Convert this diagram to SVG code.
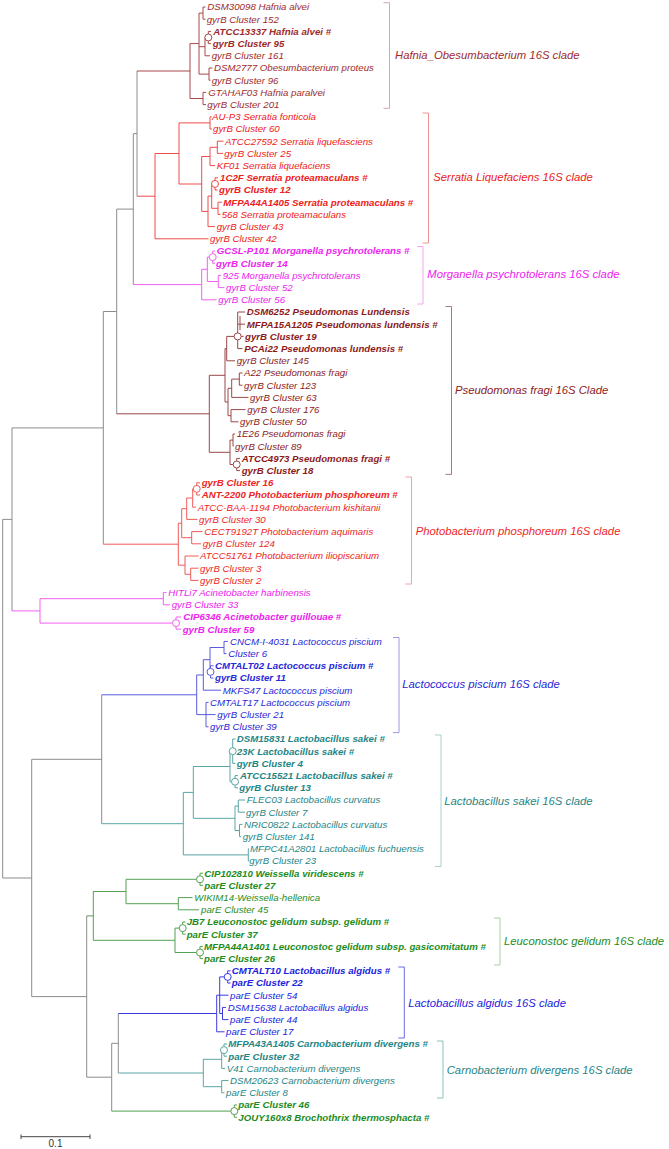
<svg xmlns="http://www.w3.org/2000/svg" width="669" height="1149" viewBox="0 0 669 1149">
<style>
text{font-family:"Liberation Sans",Arial,sans-serif;}
.lf{font-size:9.7px;font-style:italic;}
.b{font-weight:bold;}
.cl{font-size:11.3px;font-style:italic;}
.sc{font-size:10px;fill:#333;}
path{fill:none;stroke-width:1;}
circle{fill:#fff;stroke-width:1;}
.g{stroke:#8c8c8c;}
.haf{fill:#9e2b2b;} .hafL{stroke:#a84848;} .hafB{stroke:#cfaaaa;}
.ser{fill:#ee2020;} .serL{stroke:#f04a4a;} .serB{stroke:#f39090;}
.mor{fill:#ee22ee;} .morL{stroke:#f060f0;} .morB{stroke:#f0a8f0;}
.pse{fill:#8c1a1a;} .pseL{stroke:#9a4848;} .pseB{stroke:#a77a7a;}
.pho{fill:#ee2626;} .phoL{stroke:#f05a5a;} .phoB{stroke:#f2a0a0;}
.lac{fill:#2828d8;} .lacL{stroke:#5a5ae0;} .lacB{stroke:#9a9ae4;}
.sak{fill:#1f8585;} .sakL{stroke:#5aa5a5;} .sakB{stroke:#a8d0d0;}
.grn{fill:#1d8c1d;} .grnL{stroke:#55a055;} .grnB{stroke:#a8cca8;}
.alg{fill:#2222e0;} .algL{stroke:#3a3ae4;} .algB{stroke:#6a6ae8;}
.car{fill:#1f8585;} .carL{stroke:#5aa5a5;} .carB{stroke:#8cc0c0;}
</style>
<g id="connectors">
<path class="g" d="M137 71V196.2M133.3 133.6V284.6M133.3 133.6H137M116.7 209.1V413.8M116.7 209.1H133.3M103.3 311.5V544.2M103.3 311.5H116.7M12 427.9V610.9M12 427.9H103.3M2.7 519.4V878M2.7 519.4H12M2.7 878H31.7M31.7 759.3V996.6M31.7 759.3H101.7M101.7 694.8V823.7M31.7 996.6H86.7M86.7 915.9V1077.2M86.7 1077.2H111.7M111.7 1043.3V1111.1M111.7 1043.3H118.3M118.3 1013.5V1073"/>
<path class="hafL" d="M137 71H190M190 43.6V98.5M190 43.6H199M190 98.5H203M199 13.1V74.1M199 13.1H203M199 46.7H205M199 74.1H209M203 7V19.2M203 7H205.5M203 19.2H205.5M205 37.5V55.8M205 55.8H210M208.3 31.4V43.6M208.3 31.4H211M208.3 43.6H211M209 68V80.2M209 68H212.5M209 80.2H210.5M203 92.4V104.6M203 92.4H206M203 104.6H206"/>
<circle class="hafL" cx="208.3" cy="37.5" r="3.5"/>
<path class="serL" d="M137 196.2H155M155 153.5V238.8M155 153.5H179M155 238.8H208.5M179 122.9V184M179 122.9H210M179 184H201.7M210 116.8V129M210 116.8H211.5M210 129H212M201.7 156.5V211.4M201.7 156.5H210M201.7 211.4H208M210 147.3V165.6M210 147.3H217.3M210 165.6H215M217.3 141.2V153.4M217.3 141.2H223.5M217.3 153.4H223M208 196.1V226.6M208 196.1H211.7M208 226.6H215M211.7 183.9V208.3M211.7 208.3H218M215 177.8V190M215 177.8H218M215 190H217.5M218 202.2V214.4M218 202.2H222M218 214.4H220.5"/>
<circle class="serL" cx="215" cy="183.9" r="3.5"/>
<path class="morL" d="M133.3 284.6H201.7M201.7 269.3V299.8M201.7 269.3H207.3M201.7 299.8H216.5M207.3 257.1V281.5M207.3 257.1H209.2M207.3 281.5H218.3M212.7 251V263.2M212.7 251H215M212.7 263.2H215M218.3 275.4V287.6M218.3 275.4H221M218.3 287.6H224.5"/>
<circle class="morL" cx="212.7" cy="257.1" r="3.5"/>
<path class="pseL" d="M116.7 413.8H209.3M209.3 375.3V452.3M209.3 375.3H225M209.3 452.3H230M225 348.6V402M225 348.6H226.7M225 402H228M226.7 336.4V360.8M226.7 336.4H234M226.7 360.8H235M237.7 312V348.6M237.7 312H245M237.7 324.2H245M237.7 336.4H243.5M237.7 348.6H242.5M240 316V330M228 388.3V415.7M228 388.3H231.7M228 415.7H231M231.7 379.1V397.4M231.7 379.1H239.3M231.7 397.4H248.5M239.3 373V385.2M239.3 373H242.5M239.3 385.2H242.5M231 409.6V421.8M231 409.6H245.5M231 421.8H238.5M230 440.1V464.5M230 440.1H233M230 464.5H233.2M233 434V446.2M233 434H235M233 446.2H233.5M236.7 458.4V470.6M236.7 458.4H240M236.7 470.6H240"/>
<circle class="pseL" cx="237.7" cy="336.4" r="3.5"/>
<circle class="pseL" cx="236.7" cy="464.5" r="3.5"/>
<path class="phoL" d="M103.3 544.2H178.3M178.3 523.2V565.2M178.3 523.2H181.7M178.3 565.2H185M181.7 508.7V537.7M181.7 508.7H186.7M181.7 537.7H191.7M186.7 498V519.4M186.7 498H192.7M186.7 519.4H197.5M192.7 488.9V507.2M192.7 488.9H193.2M192.7 507.2H196M196.7 482.8V495M196.7 482.8H200M196.7 495H200M191.7 531.6V543.8M191.7 531.6H202.5M191.7 543.8H201M185 556V574.3M185 556H198.5M185 574.3H190.7M190.7 568.2V580.4M190.7 568.2H198.5M190.7 580.4H198.5"/>
<circle class="phoL" cx="196.7" cy="488.9" r="3.5"/>
<path class="morL" d="M12 610.9H40M40 598.7V623.1M40 598.7H163.3M40 623.1H172.5M163.3 592.6V604.8M163.3 592.6H166.5M163.3 604.8H170M176 617V629.2M176 617H181M176 629.2H181"/>
<circle class="morL" cx="176" cy="623.1" r="3.5"/>
<path class="lacL" d="M101.7 694.8H196.7M196.7 675V714.6M196.7 675H203.3M196.7 714.6H206M203.3 659.7V690.2M203.3 659.7H210M203.3 690.2H221M210 647.5V671.9M210 647.5H224M224 641.4V653.6M224 641.4H228M224 653.6H226.5M210.5 665.8V678M210.5 665.8H213.5M210.5 678H213.5M206 702.4V726.8M206 702.4H208.5M206 714.6H215.5M206 726.8H208.5"/>
<circle class="lacL" cx="210.5" cy="671.9" r="3.5"/>
<path class="sakL" d="M101.7 823.7H183.3M183.3 792.4V854.9M183.3 792.4H193.3M183.3 854.9H248.3M193.3 766.5V818.3M193.3 766.5H230M193.3 818.3H235M230 751.2V781.7M230 751.2H229.2M230 781.7H231.5M232.7 739V763.4M232.7 739H235.5M232.7 763.4H235.5M235 775.6V787.8M235 775.6H238M235 787.8H238M235 806.1V830.5M235 806.1H238.3M235 830.5H239.5M238.3 800V812.2M238.3 800H245M238.3 812.2H245M239.5 824.4V836.6M239.5 824.4H242.5M239.5 836.6H241M248.3 848.8V861M248.3 848.8H249M248.3 861H249"/>
<circle class="sakL" cx="232.7" cy="751.2" r="3.5"/>
<circle class="sakL" cx="235" cy="781.7" r="3.5"/>
<path class="grnL" d="M86.7 915.9H93.3M93.3 891.5V940.3M93.3 891.5H126M93.3 940.3H175M126 879.3V903.7M126 879.3H196.5M126 903.7H178.3M200 873.2V885.4M200 873.2H203M200 885.4H203M178.3 897.6V909.8M178.3 897.6H192.5M178.3 909.8H199M175 928.1V952.5M175 928.1H179.2M175 952.5H196.5M182.7 922V934.2M182.7 922H185.5M182.7 934.2H185.5M200 946.4V958.6M200 946.4H203M200 958.6H203M111.7 1111.1H230.8M234.3 1105V1117.2M234.3 1105H237M234.3 1117.2H237"/>
<circle class="grnL" cx="200" cy="879.3" r="3.5"/>
<circle class="grnL" cx="182.7" cy="928.1" r="3.5"/>
<circle class="grnL" cx="200" cy="952.5" r="3.5"/>
<circle class="grnL" cx="234.3" cy="1111.1" r="3.5"/>
<path class="algL" d="M118.3 1013.5H216.7M216.7 995.2V1031.8M216.7 995.2H219.7M216.7 1031.8H224.5M219.7 976.9V1013.5M219.7 976.9H224.2M219.7 995.2H228.5M219.7 1013.5H222.5M227.7 970.8V983M227.7 970.8H230.5M227.7 983H230.5M222.5 1007.4V1019.6M222.5 1007.4H226M222.5 1019.6H228.5"/>
<circle class="algL" cx="227.7" cy="976.9" r="3.5"/>
<path class="carL" d="M118.3 1073H203.3M203.3 1059.3V1086.7M203.3 1059.3H221.7M203.3 1086.7H221.7M221.7 1050.1V1068.4M221.7 1050.1H220.5M221.7 1068.4H225M224 1044V1056.2M224 1044H227M224 1056.2H227M221.7 1080.6V1092.8M221.7 1080.6H228.5M221.7 1092.8H224.5"/>
<circle class="carL" cx="224" cy="1050.1" r="3.5"/>
</g>
<g id="clade-hafnia">
<text class="lf haf" x="207.3" y="10.4">DSM30098 Hafnia alvei</text>
<text class="lf haf" x="206.7" y="22.6">gyrB Cluster 152</text>
<text class="lf haf b" x="213.3" y="34.8">ATCC13337 Hafnia alvei #</text>
<text class="lf haf b" x="212.7" y="47">gyrB Cluster 95</text>
<text class="lf haf" x="211.7" y="59.2">gyrB Cluster 161</text>
<text class="lf haf" x="214" y="71.4">DSM2777 Obesumbacterium proteus</text>
<text class="lf haf" x="211.7" y="83.6">gyrB Cluster 96</text>
<text class="lf haf" x="208.3" y="95.8">GTAHAF03 Hafnia paralvei</text>
<text class="lf haf" x="207.3" y="108">gyrB Cluster 201</text>
<path class="hafB" d="M383.5 2.7H389.5V108.3H383.5"/>
<text class="cl haf" x="395" y="59.3">Hafnia_Obesumbacterium 16S clade</text>
</g>
<g id="clade-serratia">
<text class="lf ser" x="212" y="120.2">AU-P3 Serratia fonticola</text>
<text class="lf ser" x="213" y="132.4">gyrB Cluster 60</text>
<text class="lf ser" x="225" y="144.6">ATCC27592 Serratia liquefasciens</text>
<text class="lf ser" x="224.3" y="156.8">gyrB Cluster 25</text>
<text class="lf ser" x="216.7" y="169">KF01 Serratia liquefaciens</text>
<text class="lf ser b" x="220" y="181.2">1C2F Serratia proteamaculans #</text>
<text class="lf ser b" x="219" y="193.4">gyrB Cluster 12</text>
<text class="lf ser b" x="223.3" y="205.6">MFPA44A1405 Serratia proteamaculans #</text>
<text class="lf ser" x="221.7" y="217.8">568 Serratia proteamaculans</text>
<text class="lf ser" x="216.7" y="230">gyrB Cluster 43</text>
<text class="lf ser" x="210" y="242.2">gyrB Cluster 42</text>
<path class="serB" d="M422.5 113H428.5V243H422.5"/>
<text class="cl ser" x="433.3" y="180.7">Serratia Liquefaciens 16S clade</text>
</g>
<g id="clade-morganella">
<text class="lf mor b" x="216.7" y="254.4">GCSL-P101 Morganella psychrotolerans #</text>
<text class="lf mor b" x="216" y="266.6">gyrB Cluster 14</text>
<text class="lf mor" x="222.7" y="278.8">925 Morganella psychrotolerans</text>
<text class="lf mor" x="226" y="291">gyrB Cluster 52</text>
<text class="lf mor" x="218.3" y="303.2">gyrB Cluster 56</text>
<path class="morB" d="M417 246.5H423V304H417"/>
<text class="cl mor" x="427.3" y="278">Morganella psychrotolerans 16S clade</text>
</g>
<g id="clade-pseudomonas">
<text class="lf pse b" x="246.7" y="315.4">DSM6252 Pseudomonas Lundensis</text>
<text class="lf pse b" x="246.7" y="327.6">MFPA15A1205 Pseudomonas lundensis #</text>
<text class="lf pse b" x="245" y="339.8">gyrB Cluster 19</text>
<text class="lf pse b" x="244.3" y="352">PCAi22 Pseudomonas lundensis #</text>
<text class="lf pse" x="236.7" y="364.2">gyrB Cluster 145</text>
<text class="lf pse" x="244" y="376.4">A22 Pseudomonas fragi</text>
<text class="lf pse" x="244" y="388.6">gyrB Cluster 123</text>
<text class="lf pse" x="250" y="400.8">gyrB Cluster 63</text>
<text class="lf pse" x="247.3" y="413">gyrB Cluster 176</text>
<text class="lf pse" x="240" y="425.2">gyrB Cluster 50</text>
<text class="lf pse" x="236.7" y="437.4">1E26 Pseudomonas fragi</text>
<text class="lf pse" x="235" y="449.6">gyrB Cluster 89</text>
<text class="lf pse b" x="241.7" y="461.8">ATCC4973 Pseudomonas fragi #</text>
<text class="lf pse b" x="241.7" y="474">gyrB Cluster 18</text>
<path class="pseB" d="M445.5 306.5H451.5V474.4H445.5"/>
<text class="cl pse" x="455" y="394">Pseudomonas fragi 16S Clade</text>
</g>
<g id="clade-photobacterium">
<text class="lf pho b" x="201.7" y="486.2">gyrB Cluster 16</text>
<text class="lf pho b" x="201.7" y="498.4">ANT-2200 Photobacterium phosphoreum #</text>
<text class="lf pho" x="197.7" y="510.6">ATCC-BAA-1194 Photobacterium kishitanii</text>
<text class="lf pho" x="199" y="522.8">gyrB Cluster 30</text>
<text class="lf pho" x="204.3" y="535">CECT9192T Photobacterium aquimaris</text>
<text class="lf pho" x="202.7" y="547.2">gyrB Cluster 124</text>
<text class="lf pho" x="200" y="559.4">ATCC51761 Photobacterium iliopiscarium</text>
<text class="lf pho" x="200" y="571.6">gyrB Cluster 3</text>
<text class="lf pho" x="200" y="583.8">gyrB Cluster 2</text>
<path class="phoB" d="M405.5 477H411.5V584H405.5"/>
<text class="cl pho" x="415.7" y="534.5">Photobacterium phosphoreum 16S clade</text>
</g>
<g id="clade-acinetobacter">
<text class="lf mor" x="168.3" y="596">HITLi7 Acinetobacter harbinensis</text>
<text class="lf mor" x="171.7" y="608.2">gyrB Cluster 33</text>
<text class="lf mor b" x="183.3" y="620.4">CIP6346 Acinetobacter guillouae #</text>
<text class="lf mor b" x="182.7" y="632.6">gyrB Cluster 59</text>
</g>
<g id="clade-lactococcus">
<text class="lf lac" x="230" y="644.8">CNCM-I-4031 Lactococcus piscium</text>
<text class="lf lac" x="228.3" y="657">Cluster 6</text>
<text class="lf lac b" x="215" y="669.2">CMTALT02 Lactococcus piscium #</text>
<text class="lf lac b" x="215" y="681.4">gyrB Cluster 11</text>
<text class="lf lac" x="222.7" y="693.6">MKFS47 Lactococcus piscium</text>
<text class="lf lac" x="210" y="705.8">CMTALT17 Lactococcus piscium</text>
<text class="lf lac" x="217.3" y="718">gyrB Cluster 21</text>
<text class="lf lac" x="210" y="730.2">gyrB Cluster 39</text>
<path class="lacB" d="M393 637.5H399V732.6H393"/>
<text class="cl lac" x="402.3" y="688.2">Lactococcus piscium 16S clade</text>
</g>
<g id="clade-sakei">
<text class="lf sak b" x="236.7" y="742.4">DSM15831 Lactobacillus sakei #</text>
<text class="lf sak b" x="236.7" y="754.6">23K Lactobacillus sakei #</text>
<text class="lf sak b" x="236.7" y="766.8">gyrB Cluster 4</text>
<text class="lf sak b" x="240" y="779">ATCC15521 Lactobacillus sakei #</text>
<text class="lf sak b" x="239.3" y="791.2">gyrB Cluster 13</text>
<text class="lf sak" x="246.7" y="803.4">FLEC03 Lactobacillus curvatus</text>
<text class="lf sak" x="246" y="815.6">gyrB Cluster 7</text>
<text class="lf sak" x="244" y="827.8">NRIC0822 Lactobacillus curvatus</text>
<text class="lf sak" x="242.7" y="840">gyrB Cluster 141</text>
<text class="lf sak" x="250" y="852.2">MFPC41A2801 Lactobacillus fuchuensis</text>
<text class="lf sak" x="249.3" y="864.4">gyrB Cluster 23</text>
<path class="sakB" d="M435 735H441V866.5H435"/>
<text class="cl sak" x="444.3" y="804.7">Lactobacillus sakei 16S clade</text>
</g>
<g id="clade-leuconostoc">
<text class="lf grn b" x="204.3" y="876.6">CIP102810 Weissella viridescens #</text>
<text class="lf grn b" x="204.3" y="888.8">parE Cluster 27</text>
<text class="lf grn" x="194.3" y="901">WIKIM14-Weissella-hellenica</text>
<text class="lf grn" x="201" y="913.2">parE Cluster 45</text>
<text class="lf grn b" x="186.7" y="925.4">JB7 Leuconostoc gelidum subsp. gelidum #</text>
<text class="lf grn b" x="186.7" y="937.6">parE Cluster 37</text>
<text class="lf grn b" x="204" y="949.8">MFPA44A1401 Leuconostoc gelidum subsp. gasicomitatum #</text>
<text class="lf grn b" x="204" y="962">parE Cluster 26</text>
<path class="grnB" d="M494 918H500V965H494"/>
<text class="cl grn" x="504" y="945">Leuconostoc gelidum 16S clade</text>
</g>
<g id="clade-algidus">
<text class="lf alg b" x="231.7" y="974.2">CMTALT10 Lactobacillus algidus #</text>
<text class="lf alg b" x="231.7" y="986.4">parE Cluster 22</text>
<text class="lf alg" x="230" y="998.6">parE Cluster 54</text>
<text class="lf alg" x="227.7" y="1010.8">DSM15638 Lactobacillus algidus</text>
<text class="lf alg" x="230" y="1023">parE Cluster 44</text>
<text class="lf alg" x="226" y="1035.2">parE Cluster 17</text>
<path class="algB" d="M398.3 967H404.3V1038H398.3"/>
<text class="cl alg" x="408.3" y="1006.5">Lactobacillus algidus 16S clade</text>
</g>
<g id="clade-carnobacterium">
<text class="lf car b" x="228.3" y="1047.4">MFPA43A1405 Carnobacterium divergens #</text>
<text class="lf car b" x="228.3" y="1059.6">parE Cluster 32</text>
<text class="lf car" x="226.7" y="1071.8">V41 Carnobacterium divergens</text>
<text class="lf car" x="230" y="1084">DSM20623 Carnobacterium divergens</text>
<text class="lf car" x="226" y="1096.2">parE Cluster 8</text>
<path class="carB" d="M437 1041H443V1098H437"/>
<text class="cl car" x="446.7" y="1073.5">Carnobacterium divergens 16S clade</text>
</g>
<g id="clade-brochothrix">
<text class="lf grn b" x="238.3" y="1108.4">parE Cluster 46</text>
<text class="lf grn b" x="238.3" y="1120.6">JOUY160x8 Brochothrix thermosphacta #</text>
</g>
<g id="scale-bar">
<path stroke="#444" d="M21 1136.7H90M21 1134.5V1139M90 1134.5V1139"/>
<text class="sc" x="55.5" y="1147" text-anchor="middle">0.1</text>
</g>
</svg>
